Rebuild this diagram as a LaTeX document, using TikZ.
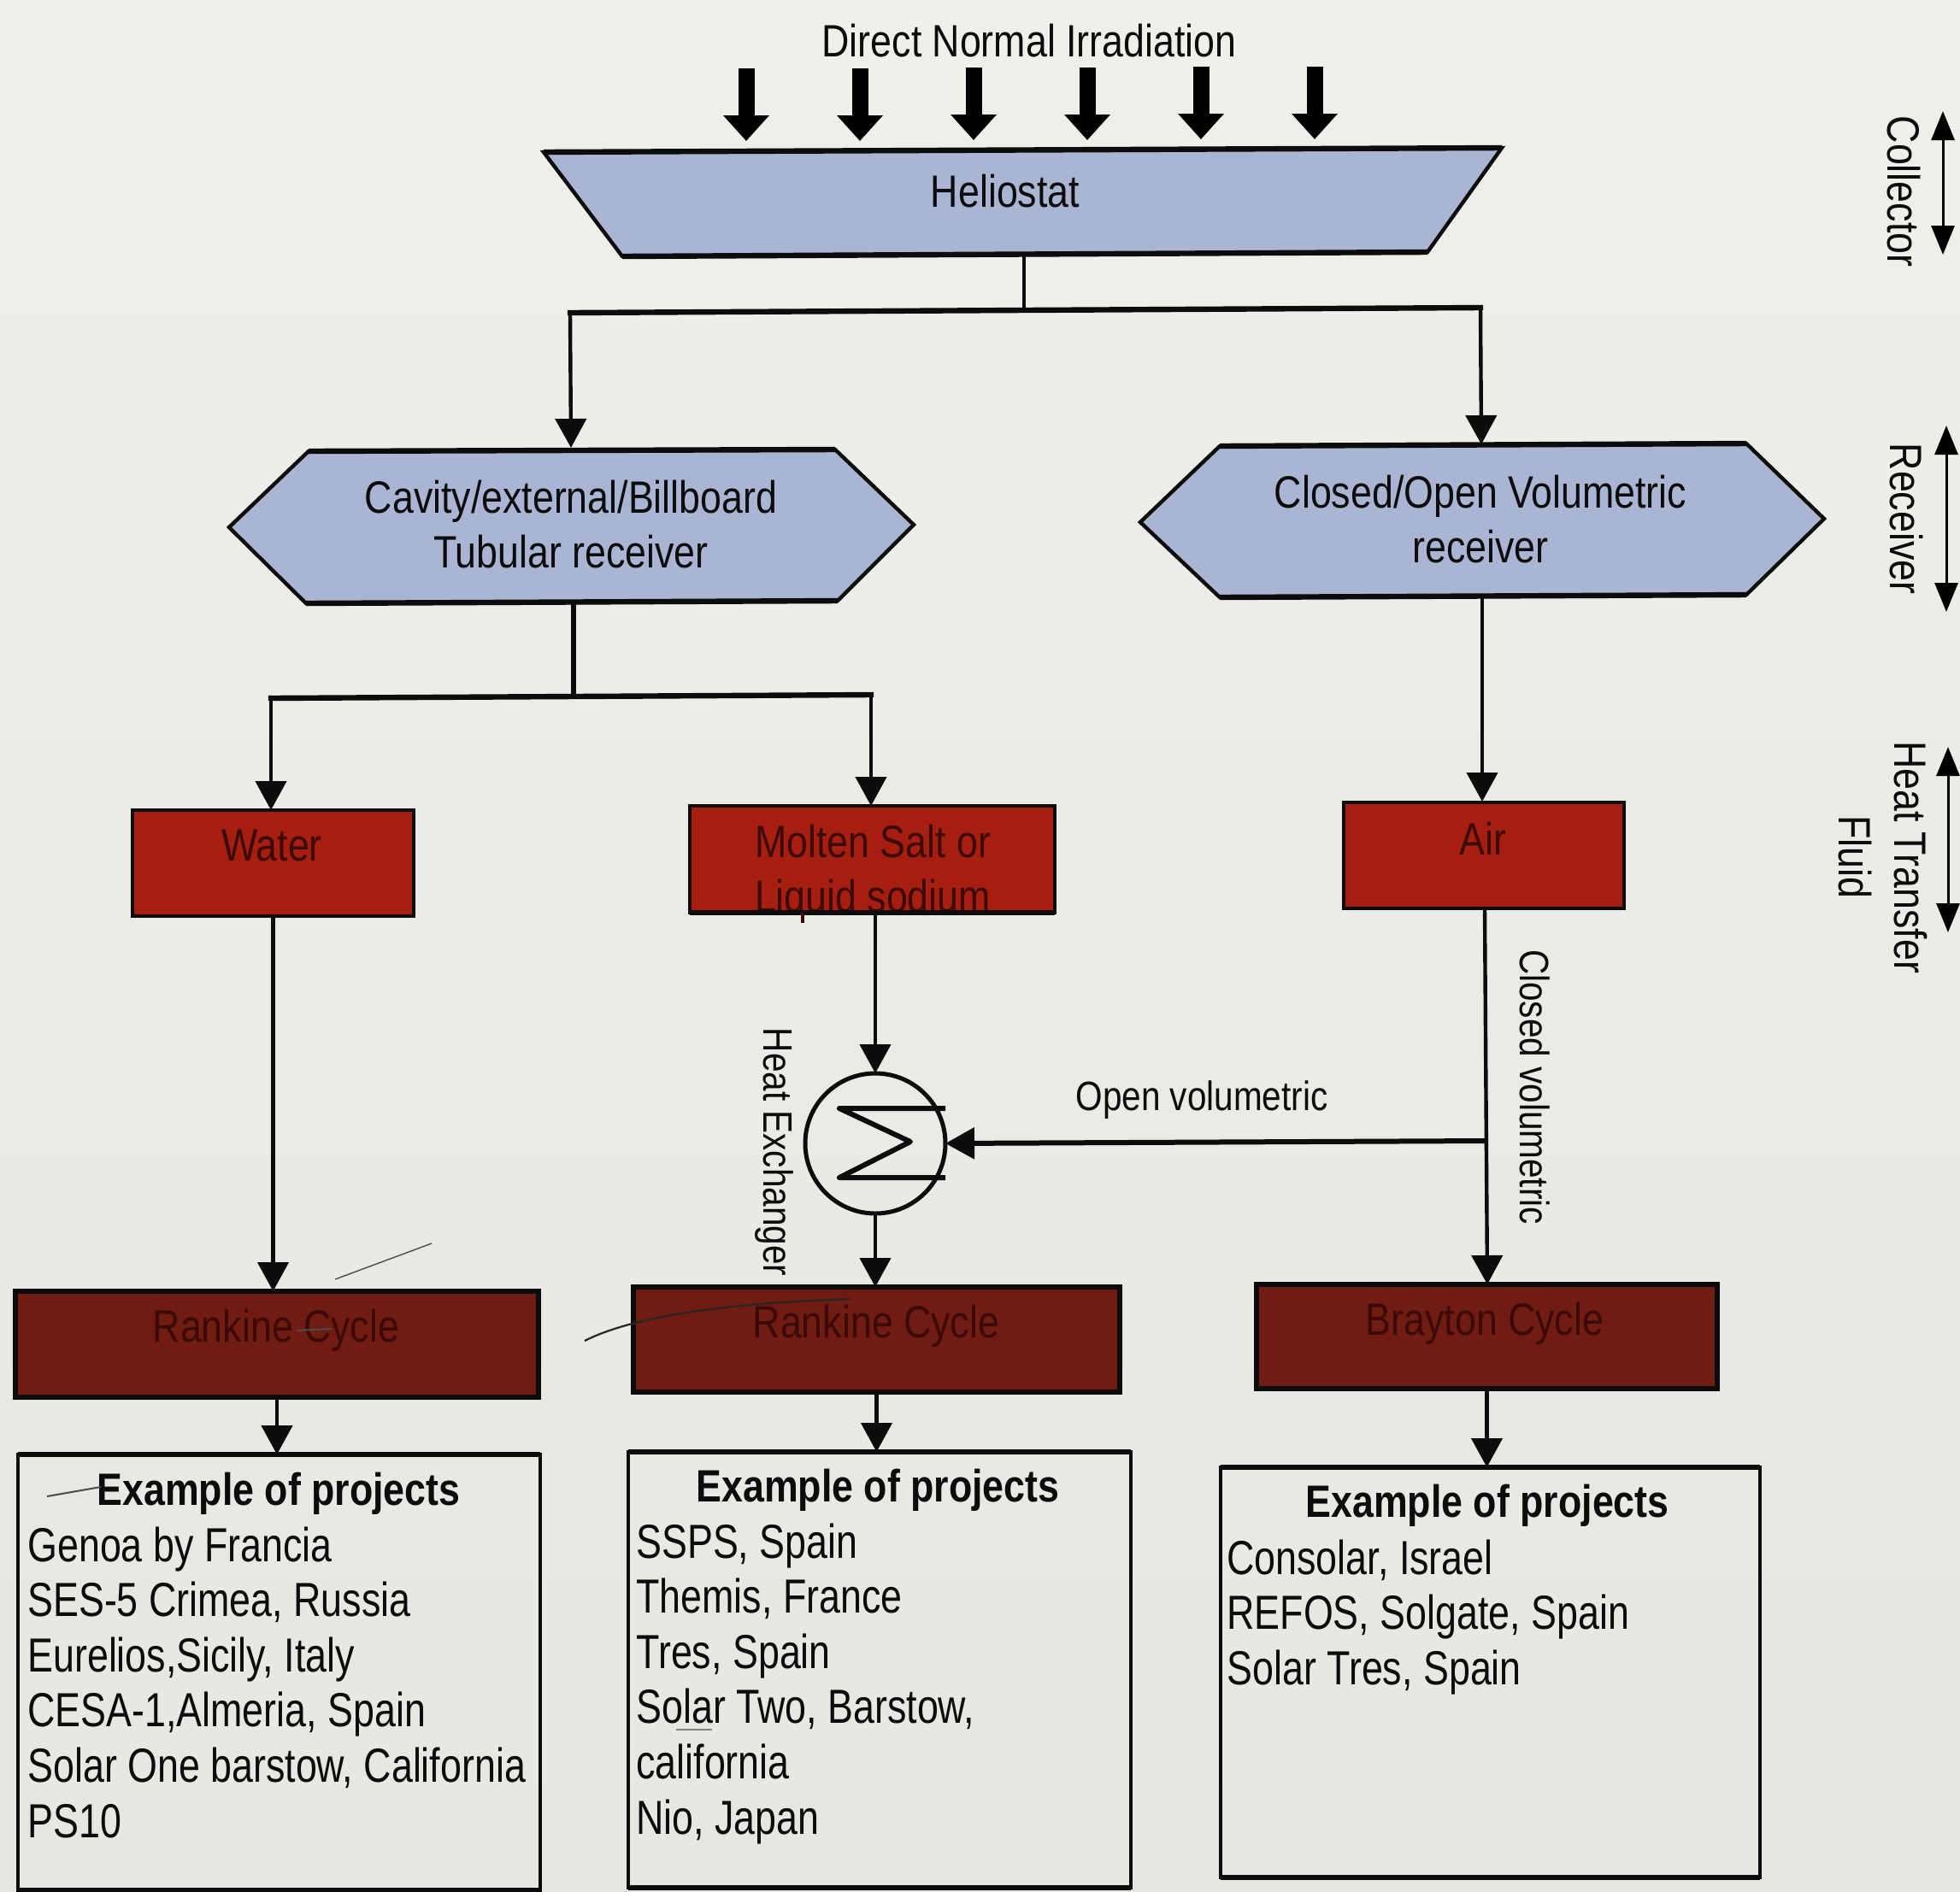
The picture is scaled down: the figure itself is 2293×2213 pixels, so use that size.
\documentclass[tikz,border=0pt]{standalone}
\usepackage{fontspec}
\setmainfont[FakeStretch=0.844]{Liberation Sans}
\newfontfamily\listfont[FakeStretch=0.80]{Liberation Sans}
\usetikzlibrary{arrows.meta}
\definecolor{papertop}{HTML}{EFF0EC}
\definecolor{paperbot}{HTML}{E6E7E3}
\definecolor{steel}{HTML}{A9B5D2}
\definecolor{brick}{HTML}{A61E10}
\definecolor{maroon}{HTML}{701C12}
\definecolor{ink}{HTML}{0C0C0C}
\definecolor{redink}{HTML}{3C0A06}
\tikzset{
  x=0.5pt,y=-0.5pt,
  lbl/.style={font=\fontsize{26.5}{32}\selectfont,text=ink,inner sep=0pt,align=center},
  edgelbl/.style={font=\fontsize{24}{30}\selectfont,text=ink,inner sep=0pt,align=center},
  listlbl/.style={font=\listfont\fontsize{28}{32.3}\selectfont,text=ink,inner sep=0pt,align=left,anchor=north west},
  headlbl/.style={font=\bfseries\fontsize{26.5}{32}\selectfont,text=ink,inner sep=0pt},
  shapeline/.style={draw=ink,line width=2.2pt,line join=miter},
  heavy/.style={draw=ink,line width=3.2pt},
  redbox/.style={draw=ink,line width=2.4pt,fill=brick,inner sep=0pt,outer sep=0pt,anchor=north west},
  cyclebox/.style={draw=ink,line width=2.6pt,fill=maroon,inner sep=0pt,outer sep=0pt,anchor=north west},
  redlbl/.style={font=\fontsize{26.5}{30}\selectfont,text=redink,inner sep=0pt,align=center},
  listbox/.style={draw=ink,line width=1.6pt,inner sep=0pt,outer sep=0pt,anchor=north west},
  conn/.style={draw=ink,line width=2.2pt,-{Triangle[width=18pt,length=17pt]}},
  plainconn/.style={draw=ink,line width=2.2pt},
  ray/.style={draw=black,line width=9.5pt,-{Triangle[width=26pt,length=15pt]}},
  twoway/.style={draw=black,line width=1.5pt,{Triangle[width=13.5pt,length=17pt]}-{Triangle[width=13.5pt,length=17pt]}},
  scratch/.style={draw=black!70,line width=0.7pt},
}
\newcommand{\rectnode}[6]{\node[#1,minimum width=#5*0.5pt-#4*0.5pt,minimum height=#6*0.5pt-#3*0.5pt] (#2) at (#4,#3) {};}
\begin{document}
\begin{tikzpicture}
\useasboundingbox[top color=papertop,bottom color=paperbot] (0,0) rectangle (2293,2213);
% rays
\foreach \n/\xx/\ya in {1/873/80,2/1006/80,3/1139/79,4/1272/79,5/1405/78,6/1538/78}{
  \coordinate (rs\n) at (\xx,\ya);
  \coordinate (re\n) at (\xx,\ya+85);
  \draw[ray] (rs\n) -- (re\n);
}
\node[lbl] (dni) at (1204,48) {Direct Normal Irradiation};
% heliostat
\draw[shapeline,fill=steel] (636,178) -- (1757,173) -- (1670,295) -- (728,300) -- cycle;
\draw[heavy] (636,178) -- (1757,173) (1670,295) -- (728,300);
\node[lbl] (helio) at (1176,224) {Heliostat};
\coordinate (helioB) at (1198,298);
\coordinate (hj) at (1198,363);
\coordinate (hjL) at (667,366);
\coordinate (hjR) at (1732,360);
\coordinate (tubIn) at (668,524);
\coordinate (volIn) at (1733,520);
\draw[plainconn] (helioB) -- (hj);
\draw[heavy,line cap=rect] (hjL) -- (hj) -- (hjR);
\draw[conn] (hjL) -- (tubIn);
\draw[conn] (hjR) -- (volIn);
% receivers
\draw[shapeline,fill=steel] (268,617) -- (361,528) -- (977,526) -- (1069,614) -- (980,703) -- (358,706) -- cycle;
\draw[heavy] (361,528) -- (977,526) (980,703) -- (358,706);
\node[lbl] (tub) at (668,614) {Cavity/external/Billboard\\Tubular receiver};
\draw[shapeline,fill=steel] (1334,611) -- (1427,522) -- (2043,519) -- (2134,607) -- (2043,696) -- (1427,699) -- cycle;
\draw[heavy] (1427,522) -- (2043,519) (2043,696) -- (1427,699);
\node[lbl] (vol) at (1732,608) {Closed/Open Volumetric\\receiver};
% fluids
\rectnode{redbox}{water}{948}{155}{484}{1072}
\rectnode{redbox}{salt}{943}{807}{1234}{1068}
\rectnode{redbox}{air}{939}{1572}{1900}{1063}
\node[redlbl] at (318,990) {Water};
\begin{scope}
\clip (salt.north west) rectangle (salt.south east);
\node[redlbl,anchor=north] (saltlbl) at (1021,965) {Molten Salt or\\[2pt]Liquid sodium};
\end{scope}
\draw[draw=ink,line width=2.6pt] (salt.south west) -- (salt.south east);
\draw[draw=redink,line width=2pt] (939,1068) -- (939,1080);
\node[redlbl] at (1735,981) {Air};
\coordinate (tubB) at (671,705);
\coordinate (tj) at (671,815);
\coordinate (tjL) at (317,817);
\coordinate (tjR) at (1019,813);
\draw[plainconn,line width=3pt] (tubB) -- (tj);
\draw[heavy,line cap=rect] (tjL) -- (tj) -- (tjR);
\draw[conn] (tjL) -- (water.north -| tjL);
\draw[conn] (tjR) -- (salt.north -| tjR);
\coordinate (volB) at (1734,698);
\coordinate (airT) at (1734,938);
\draw[conn] (volB) -- (airT);
% cycles
\rectnode{cyclebox}{rank1}{1511}{18}{630}{1635}
\rectnode{cyclebox}{rank2}{1506}{741}{1310}{1629}
\rectnode{cyclebox}{bray}{1503}{1470}{2009}{1625}
\node[redlbl] at (323,1557) {Rankine Cycle};
\node[redlbl] at (1025,1552) {Rankine Cycle};
\node[redlbl] at (1737,1549) {Brayton Cycle};
% heat exchanger
\node[circle,draw=ink,line width=2.5pt,minimum size=82pt,inner sep=0pt,outer sep=0pt] (hx) at (1024,1338) {};
\draw[draw=ink,line width=3pt,line join=round] (1106,1297) -- (982,1297) -- (1065,1336) -- (982,1378) -- (1106,1378);
\draw[conn] (salt.south -| hx) -- (hx.north);
\draw[conn] (hx.south) -- (rank2.north -| hx);
\coordinate (airB) at (1737,1063);
\coordinate (brayT) at (1740,1503);
\coordinate (tee) at (1738,1335);
\draw[conn] (airB) -- (brayT);
\draw[conn,line width=3pt] (tee) -- (hx.east);
\draw[conn] (water.south) -- (rank1.north -| water.south);
% project boxes
\rectnode{listbox}{p1}{1702}{21}{632}{2212}
\rectnode{listbox}{p2}{1699}{735}{1323}{2209}
\rectnode{listbox}{p3}{1717}{1428}{2059}{2197}
\foreach \b in {p1,p2,p3}{\draw[heavy] (\b.north west) -- (\b.north east) (\b.south west) -- (\b.south east);}
\draw[conn] (rank1.south) -- (rank1.south |- p1.north);
\draw[conn] (rank2.south) -- (rank2.south |- p2.north);
\draw[conn] (bray.south) -- (bray.south |- p3.north);
\node[headlbl] at (326,1748) {Example of projects};
\node[headlbl] at (1027,1744) {Example of projects};
\node[headlbl] at (1740,1762) {Example of projects};
\node[listlbl] at (32,1786) {Genoa by Francia\\SES-5 Crimea, Russia\\Eurelios,Sicily, Italy\\CESA-1,Almeria, Spain\\Solar One barstow, California\\PS10};
\node[listlbl] at (744,1782) {SSPS, Spain\\Themis, France\\Tres, Spain\\Solar Two, Barstow,\\california\\Nio, Japan};
\node[listlbl] at (1435,1801) {Consolar, Israel\\REFOS, Solgate, Spain\\Solar Tres, Spain};
% edge labels
\node[edgelbl] at (1406,1287) {Open volumetric};
\node[edgelbl,rotate=-90] at (1796,1272) {Closed volumetric};
\node[edgelbl,rotate=-90] at (906,1348) {Heat Exchanger};
% side labels
\node[lbl,rotate=-90] at (2227,224) {Collector};
\node[lbl,rotate=-90] at (2230,607) {Receiver};
\node[lbl,rotate=-90] at (2203,1003) {Heat Transfer\\[0.5pt]Fluid};
\coordinate (c1) at (2273,130); \coordinate (c2) at (2273,298);
\coordinate (r1) at (2277,498); \coordinate (r2) at (2277,716);
\coordinate (f1) at (2279,874); \coordinate (f2) at (2279,1091);
\draw[twoway] (c1) -- (c2);
\draw[twoway] (r1) -- (r2);
\draw[twoway] (f1) -- (f2);
% pen marks
\draw[scratch] (392,1497) -- (505,1455);
\draw[scratch,line width=1.1pt,draw=black!85] (684,1569) .. controls (741,1540) and (850,1525) .. (995,1520);
\draw[scratch,line width=1pt] (55,1751) -- (118,1740);
\draw[scratch,line width=1pt] (347,1557) -- (388,1555);
\draw[scratch,draw=black!50] (791,2024) -- (833,2024);
\end{tikzpicture}
\end{document}
